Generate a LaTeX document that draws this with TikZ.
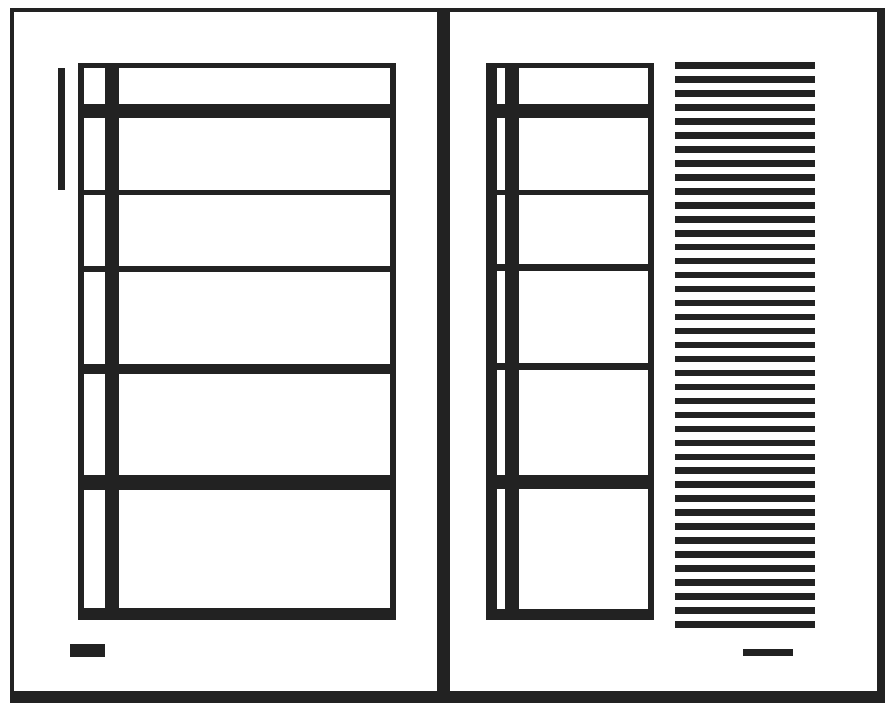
\documentclass[tikz,border=0pt]{standalone}
\usepackage{tikz}
\definecolor{ink}{RGB}{34,34,34}

\begin{document}
\begin{tikzpicture}[x=0.03cm,y=-0.03cm]
\tikzstyle{bar}=[fill=ink]
\useasboundingbox[fill=white] (0,0) rectangle (885,703);
% spread frame
\fill[bar] (10,8) rectangle (881,12);
\fill[bar] (10,8) rectangle (14,703);
\fill[bar] (877,8) rectangle (885,703);
\fill[bar] (10,691) rectangle (885,703);
\fill[bar] (437,8) rectangle (450,703);
% left page grid
\fill[bar] (78,63) rectangle (396,68);
\fill[bar] (78,63) rectangle (84,620);
\fill[bar] (390,63) rectangle (396,620);
\fill[bar] (78,608) rectangle (396,620);
\fill[bar] (105,63) rectangle (119,620);
\foreach \a/\b in {104/118,190/195,266/272,364/374,475/490}
  \fill[bar] (78,\a) rectangle (396,\b);
\fill[bar] (58,68) rectangle (65,190);
\fill[bar] (70,644) rectangle (105,657);
% right page grid
\fill[bar] (486,63) rectangle (654,68);
\fill[bar] (486,63) rectangle (497,620);
\fill[bar] (648,63) rectangle (654,620);
\fill[bar] (486,609) rectangle (654,620);
\fill[bar] (505,63) rectangle (519,620);
\foreach \a/\b in {104/118,190/195,264/271,363/370,475/489}
  \fill[bar] (486,\a) rectangle (654,\b);
% text lines
\foreach \i in {0,...,40}
  \fill[bar] (675,{65.5+13.975*\i-3.3}) rectangle (815,{65.5+13.975*\i+3.3});
\fill[bar] (743,649) rectangle (793,656);
\end{tikzpicture}
\end{document}
